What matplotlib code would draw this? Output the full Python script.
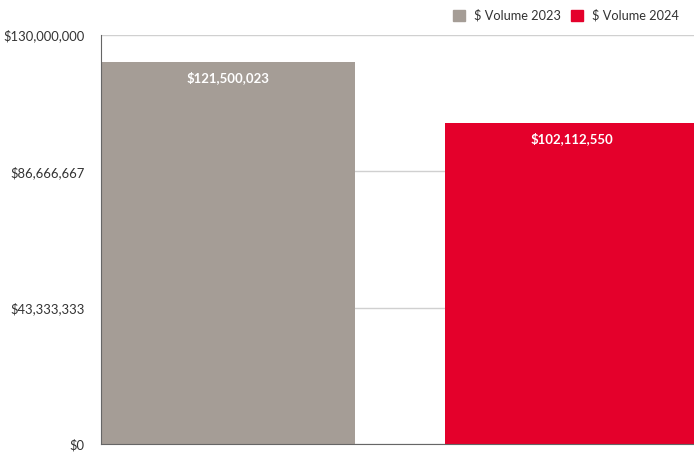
import matplotlib.pyplot as plt
from matplotlib.ticker import FuncFormatter

plt.rcParams['font.family'] = ['Lato', 'DejaVu Sans']

series = ['$ Volume 2023', '$ Volume 2024']
volumes = [121500023, 102112550]
colors = ['#a59d96', '#e4002b']
yticks = [0, 43333333, 86666667, 130000000]

fig = plt.figure(figsize=(6.94, 4.53), dpi=100)
ax = fig.add_axes([101 / 694, 9 / 453, 593 / 694, 409 / 453])

bar_w = 0.738
bars = ax.bar([0, 1], volumes, width=bar_w, color=colors, zorder=2)
for b, v in zip(bars, volumes):
    ax.text(b.get_x() + b.get_width() / 2, v - 0.022 * 130e6, f'${v:,.0f}',
            ha='center', va='top', color='white', fontsize=9.5,
            fontweight='bold', zorder=3)

ax.set_xlim(-bar_w / 2, 1.355)
ax.set_ylim(0, 130000000)
ax.set_yticks(yticks)
ax.yaxis.set_major_formatter(FuncFormatter(lambda v, p: f'${v:,.0f}'))
ax.set_xticks([])
ax.tick_params(axis='y', length=0, pad=12, labelsize=9.4, labelcolor='#333333')
ax.grid(axis='y', color='#d0d0d0', linewidth=1, zorder=0)

for s in ['top', 'right']:
    ax.spines[s].set_visible(False)
ax.spines['left'].set_color('#666666')
ax.spines['bottom'].set_color('#666666')

handles = [plt.Rectangle((0, 0), 1, 1, color=c) for c in colors]
fig.legend(handles, series, loc='upper right', bbox_to_anchor=(0.995, 1.005),
           ncol=2, frameon=False, fontsize=9.2, handlelength=0.95,
           handleheight=0.95, handletextpad=0.7, columnspacing=0.8,
           labelcolor='#333333')

fig.savefig('out.png', dpi=100)
